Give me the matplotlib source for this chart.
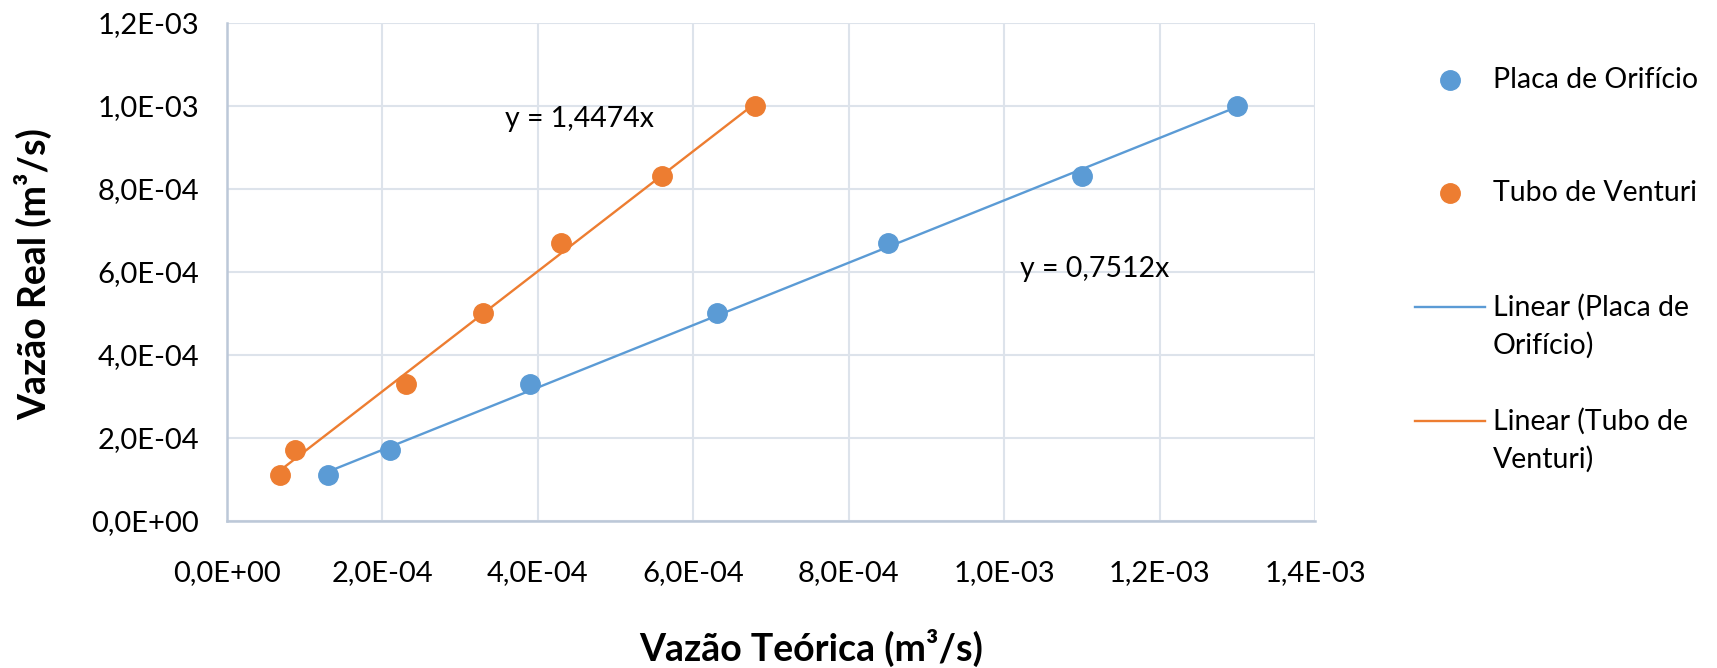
import numpy as np
import matplotlib.pyplot as plt
from matplotlib.lines import Line2D
from matplotlib.ticker import FuncFormatter, MultipleLocator

plt.rcParams['font.family'] = ['Lato', 'DejaVu Sans']

# data (m3/s)
placa_x = [1.3e-4, 2.1e-4, 3.9e-4, 6.3e-4, 8.5e-4, 1.1e-3, 1.3e-3]
placa_y = [1.1e-4, 1.7e-4, 3.3e-4, 5.0e-4, 6.7e-4, 8.3e-4, 1.0e-3]
venturi_x = [0.68e-4, 0.87e-4, 2.3e-4, 3.3e-4, 4.3e-4, 5.6e-4, 6.8e-4]
venturi_y = [1.1e-4, 1.7e-4, 3.3e-4, 5.0e-4, 6.7e-4, 8.3e-4, 1.0e-3]
eq_placa = 'y = 0,7512x'
eq_venturi = 'y = 1,4474x'
legend_labels = [['Placa de Orifício'], ['Tubo de Venturi'],
                 ['Linear (Placa de', 'Orifício)'],
                 ['Linear (Tubo de', 'Venturi)']]

blue = '#5B9BD5'
orange = '#ED7D31'
W, H = 1717, 668


def sci_comma(v, pos):
    return f'{v:.1E}'.replace('.', ',')


def trend(x, y):
    # least squares line drawn over the series' x range, like excel
    k, b = np.polyfit(x, y, 1)
    xs = np.array([min(x), max(x)])
    return xs, k * xs + b


fig = plt.figure(figsize=(W / 100, H / 100), dpi=100)
ax = fig.add_axes([0.1322, 0.2201, 0.6337, 0.7459])

ax.plot(placa_x, placa_y, 'o', color=blue, ms=14, zorder=3)
ax.plot(venturi_x, venturi_y, 'o', color=orange, ms=14, zorder=3)

xp, yp = trend(placa_x, placa_y)
xv, yv = trend(venturi_x, venturi_y)
ax.plot(xp, yp, color=blue, lw=1.7, zorder=2)
ax.plot(xv, yv, color=orange, lw=1.7, zorder=2)

ax.text(0.3577e-3, 0.968e-3, eq_venturi, fontsize=20.5, va='center')
ax.text(1.0204e-3, 0.607e-3, eq_placa, fontsize=20.5, va='center')

ax.set_xlim(0, 1.4e-3)
ax.set_ylim(0, 1.2e-3)
ax.xaxis.set_major_locator(MultipleLocator(2e-4))
ax.yaxis.set_major_locator(MultipleLocator(2e-4))
ax.xaxis.set_major_formatter(FuncFormatter(sci_comma))
ax.yaxis.set_major_formatter(FuncFormatter(sci_comma))
ax.tick_params(length=0, labelsize=21)
ax.tick_params(axis='y', pad=20)
ax.tick_params(axis='x', pad=28)
ax.grid(True, color='#DDE3EB', lw=1.5)
ax.set_axisbelow(True)
for s in ['top', 'right']:
    ax.spines[s].set_visible(False)
for s in ['left', 'bottom']:
    ax.spines[s].set_color('#BCC8D8')
    ax.spines[s].set_linewidth(1.8)

fig.text(811 / W, 1 - 648 / H, 'Vazão Teórica (m³/s)', fontsize=27,
         fontweight='bold', ha='center', va='center')
fig.text(33 / W, 1 - 274 / H, 'Vazão Real (m³/s)', fontsize=27,
         fontweight='bold', ha='center', va='center', rotation=90)

# legend, laid out like the excel one (rows at fixed pitch)
row_y = [80, 193, 307, 421]
handles = [('marker', blue), ('marker', orange), ('line', blue), ('line', orange)]
for (kind, col), lines, y in zip(handles, legend_labels, row_y):
    fy = 1 - y / H
    if kind == 'marker':
        fig.add_artist(Line2D([1450 / W], [fy], marker='o', ms=14, color=col,
                              ls='none'))
    else:
        fig.add_artist(Line2D([1415 / W, 1485 / W], [fy, fy], color=col,
                              lw=1.7))
    for i, txt in enumerate(lines):
        fig.text(1493 / W, 1 - (y + 38 * i) / H, txt, fontsize=20.5,
                 va='center', ha='left')

fig.savefig('out.png', dpi=100)
